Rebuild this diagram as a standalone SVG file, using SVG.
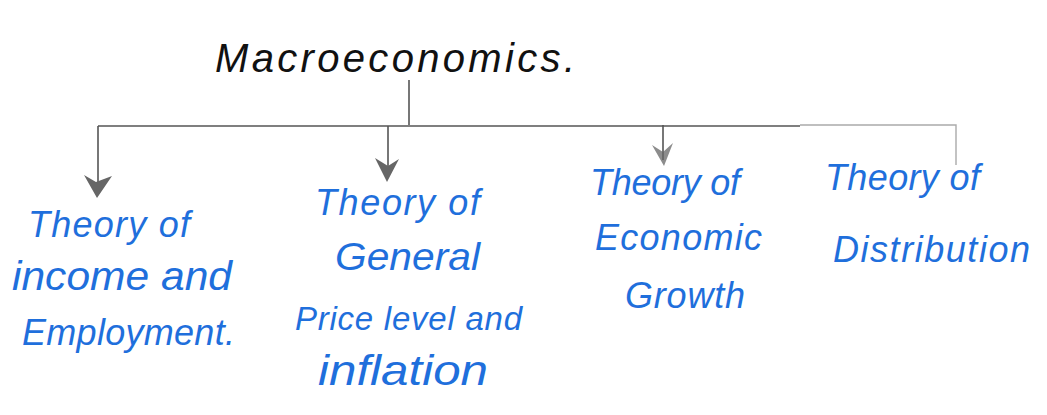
<svg xmlns="http://www.w3.org/2000/svg" width="1047" height="415" viewBox="0 0 1047 415">
<style>
.t{font-family:"Liberation Sans","DejaVu Sans",sans-serif;font-size:36px;fill:#1f6fdc;font-style:italic}
.title{font-family:"Liberation Sans","DejaVu Sans",sans-serif;font-size:40px;fill:#111;font-style:italic}
.ln{stroke:#555;stroke-width:1.6;fill:none}
.faint{stroke:#aaa;stroke-width:1.4;fill:none}
.head{fill:#666}
</style>
<rect width="1047" height="415" fill="#fff"/>
<g id="connectors">
<path class="ln" d="M409,80 V125"/>
<path class="ln" d="M98,126 H800"/>
<path class="faint" d="M800,125 H956 V165"/>
<path class="ln" d="M98,126 V190"/>
<path class="head" d="M84,175 L96,182 L112,176 L97,198 Z"/>
<path class="ln" d="M388,126 V175"/>
<path class="head" d="M375,158 L388,166 L399,159 L387,182 Z"/>
<path class="ln" d="M663,125 V160"/>
<path class="head" d="M652,145 L663,152 L673,143 L664,166 Z" opacity="0.75"/>
</g>
<g id="title"><text class="title" x="215" y="72" textLength="360" lengthAdjust="spacing">Macroeconomics.</text></g>
<g id="node1">
<text class="t" x="28" y="237" textLength="162" lengthAdjust="spacing">Theory of</text>
<text class="t" x="12" y="290" textLength="220" lengthAdjust="spacingAndGlyphs" style="font-size:40px">income and</text>
<text class="t" x="22" y="345" textLength="213" lengthAdjust="spacing">Employment.</text>
</g>
<g id="node2">
<text class="t" x="315" y="215" textLength="165" lengthAdjust="spacing">Theory of</text>
<text class="t" x="335" y="270" textLength="145" lengthAdjust="spacingAndGlyphs" style="font-size:38px">General</text>
<text class="t" x="295" y="330" textLength="227" lengthAdjust="spacing" style="font-size:33px">Price level and</text>
<text class="t" x="318" y="385" textLength="170" lengthAdjust="spacingAndGlyphs" style="font-size:42px">inflation</text>
</g>
<g id="node3">
<text class="t" x="590" y="195" textLength="150" lengthAdjust="spacing">Theory of</text>
<text class="t" x="595" y="250" textLength="167" lengthAdjust="spacing">Economic</text>
<text class="t" x="625" y="308" textLength="120" lengthAdjust="spacing">Growth</text>
</g>
<g id="node4">
<text class="t" x="825" y="190" textLength="155" lengthAdjust="spacing">Theory of</text>
<text class="t" x="833" y="262" textLength="197" lengthAdjust="spacing">Distribution</text>
</g>
</svg>
